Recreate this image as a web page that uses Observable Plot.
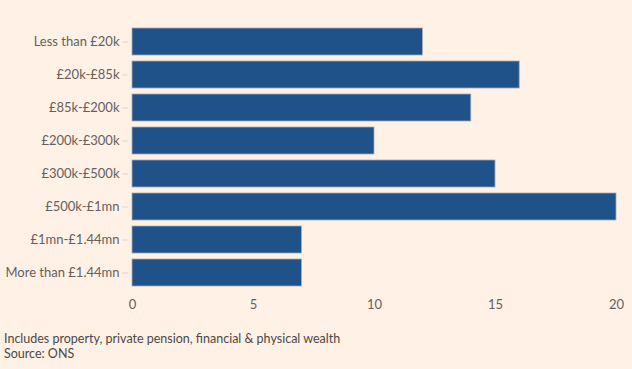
<!DOCTYPE html>
<html>
<head>
<meta charset="utf-8">
<script src="https://cdn.jsdelivr.net/npm/d3@7"></script>
<script src="https://cdn.jsdelivr.net/npm/@observablehq/plot@0.6"></script>
<style>
  html, body { margin: 0; padding: 0; background: #FFF1E5; }
  body { width: 632px; height: 369px; overflow: hidden; font-family: Lato, "Open Sans", sans-serif; }
  #chart svg { display: block; }
  #caption { font-size: 12.5px; line-height: 15px; color: #4d4845; padding-left: 4px; margin-top: 6px; }
</style>
</head>
<body>
<div id="chart"></div>
<div id="caption">Includes property, private pension, financial &amp; physical wealth<br>Source: ONS</div>
<script>
const categories = ["Less than £20k", "£20k-£85k", "£85k-£200k", "£200k-£300k", "£300k-£500k", "£500k-£1mn", "£1mn-£1.44mn", "More than £1.44mn"];
const values = [12, 16, 14, 10, 15, 20, 7, 7];
const xTicks = [0, 5, 10, 15, 20];

const data = categories.map((c, i) => ({category: c, value: values[i]}));

const chart = Plot.plot({
  width: 632,
  height: 325,
  marginLeft: 132,
  marginRight: 16,
  marginTop: 18.5,
  marginBottom: 29.3,
  style: {background: "#FFF1E5", fontFamily: "Lato, 'Open Sans', sans-serif", fontSize: "13px", color: "#66605C"},
  x: {domain: [0, 20], ticks: xTicks},
  y: {domain: categories, padding: 0.18},
  marks: [
    Plot.gridX(xTicks, {stroke: "#E9D8C8", strokeOpacity: 0.7, y1: 0, y2: 295}),
    Plot.barX(data, {x: "value", y: "category", fill: "#20528A", stroke: "#A9A9B0", strokeWidth: 0.8}),
    Plot.axisY({tickSize: 6, tickPadding: 3, dx: -4, stroke: "#E3D3C4", label: null, fill: "#66605C", fontSize: 13}),
    Plot.axisX({ticks: xTicks, tickSize: 0, tickPadding: 4, label: null, fill: "#66605C", fontSize: 13})
  ]
});
document.getElementById("chart").appendChild(chart);
</script>
</body>
</html>
